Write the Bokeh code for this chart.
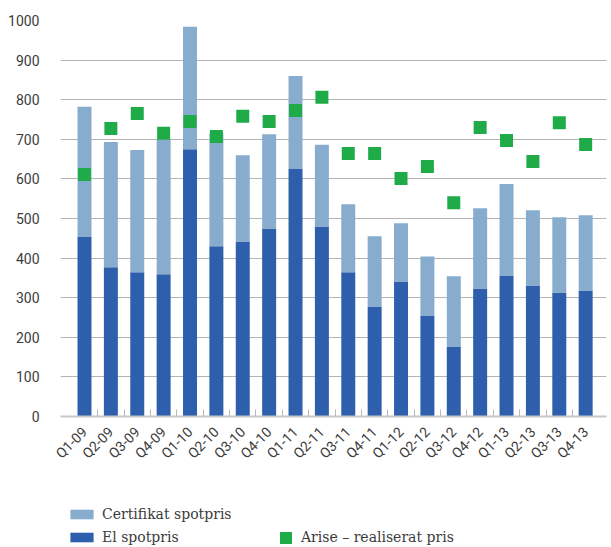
import numpy as np
from math import pi
from bokeh.plotting import figure
from bokeh.layouts import column
from bokeh.models import ColumnDataSource, FixedTicker, Legend, LegendItem, Range1d
from bokeh.embed import file_html
from bokeh.resources import INLINE

quarters = ["Q1-09", "Q2-09", "Q3-09", "Q4-09", "Q1-10", "Q2-10", "Q3-10", "Q4-10",
            "Q1-11", "Q2-11", "Q3-11", "Q4-11", "Q1-12", "Q2-12", "Q3-12", "Q4-12",
            "Q1-13", "Q2-13", "Q3-13", "Q4-13"]
el_spotpris = [453, 377, 364, 359, 675, 430, 442, 475, 625, 480,
               364, 278, 341, 255, 177, 323, 356, 331, 313, 318]
certifikat_spotpris = [329, 316, 309, 341, 309, 286, 218, 238, 235, 206,
                       172, 177, 147, 149, 177, 203, 231, 190, 190, 190]
arise_pris = [611, 727, 765, 715, 745, 707, 758, 745, 773, 806,
              664, 664, 601, 631, 540, 730, 697, 644, 742, 687]
y_ticks = list(range(0, 1001, 100))

DARK = "#2e5fac"
LIGHT = "#88acce"
GREEN = "#1fab48"
TXT = "#3c3c3c"

idx = list(range(len(quarters)))
src = ColumnDataSource(dict(x=idx, el=el_spotpris, cert=certifikat_spotpris, arise=arise_pris))

# ---- main chart ----
p1 = figure(width=611, height=476, output_backend="svg", toolbar_location=None,
            x_range=Range1d(-0.91, 19.79), y_range=Range1d(0, 1000),
            min_border_left=60, min_border_right=5, min_border_top=20, min_border_bottom=60)
p1.outline_line_color = None

p1.vbar_stack(["el", "cert"], x="x", width=0.53, source=src,
              color=[DARK, LIGHT], line_color=None)
p1.scatter("x", "arise", source=src, marker="square", size=13, color=GREEN, line_color=None)

p1.yaxis.ticker = FixedTicker(ticks=y_ticks)
p1.yaxis.axis_line_color = None
p1.yaxis.major_tick_line_color = None
p1.yaxis.minor_tick_line_color = None
p1.yaxis.major_label_standoff = 15
p1.yaxis.major_label_text_font = "Roboto"
p1.yaxis.major_label_text_font_size = "14px"
p1.yaxis.major_label_text_color = TXT

p1.xaxis.ticker = FixedTicker(ticks=idx, minor_ticks=[i + 0.5 for i in range(len(quarters) - 1)])
p1.xaxis.major_label_overrides = {i: q for i, q in enumerate(quarters)}
p1.xaxis.major_label_orientation = pi / 4
p1.xaxis.major_tick_line_color = None
p1.xaxis.minor_tick_in = 7
p1.xaxis.minor_tick_out = 0
p1.xaxis.minor_tick_line_color = "#b8b8b8"
p1.xaxis.axis_line_color = "#c8c8c8"
p1.xaxis.axis_line_width = 2
p1.xaxis.major_label_standoff = 7
p1.xaxis.major_label_text_font = "Roboto"
p1.xaxis.major_label_text_font_size = "14px"
p1.xaxis.major_label_text_color = TXT

p1.xgrid.grid_line_color = None
p1.ygrid.grid_line_color = "#b4b4b4"
p1.ygrid.grid_line_width = 1

# ---- legend strip (hidden proxies carry the legend swatches) ----
p2 = figure(width=611, height=71, output_backend="svg", toolbar_location=None,
            x_range=Range1d(0, 1), y_range=Range1d(0, 1),
            min_border=0, x_axis_type=None, y_axis_type=None)
p2.outline_line_color = None
p2.grid.visible = False
lg_cert = p2.vbar(x="x", top="cert", source=src, width=0.5, color=LIGHT, line_color=None, visible=False)
lg_el = p2.vbar(x="x", top="el", source=src, width=0.5, color=DARK, line_color=None, visible=False)
lg_arise = p2.vbar(x="x", top="arise", source=src, width=0.5, color=GREEN, line_color=None, visible=False)

leg_style = dict(border_line_color=None, background_fill_alpha=0, padding=0, margin=0,
                 spacing=3, label_text_font="DejaVu Serif", label_text_font_size="14px",
                 label_text_color=TXT, label_height=20, inactive_fill_alpha=0,
                 click_policy="none")

leg1 = Legend(items=[LegendItem(label="Certifikat spotpris", renderers=[lg_cert]),
                     LegendItem(label="El spotpris", renderers=[lg_el])],
              location=(7, 0), glyph_width=29, glyph_height=12, label_standoff=6, **leg_style)
leg2 = Legend(items=[LegendItem(label="Arise – realiserat pris", renderers=[lg_arise])],
              location=(218, 0), glyph_width=15, glyph_height=15, label_standoff=8, **leg_style)
p2.add_layout(leg1)
p2.add_layout(leg2)

layout = column(p1, p2, spacing=0)
open("out.html", "w").write(file_html(layout, INLINE))
